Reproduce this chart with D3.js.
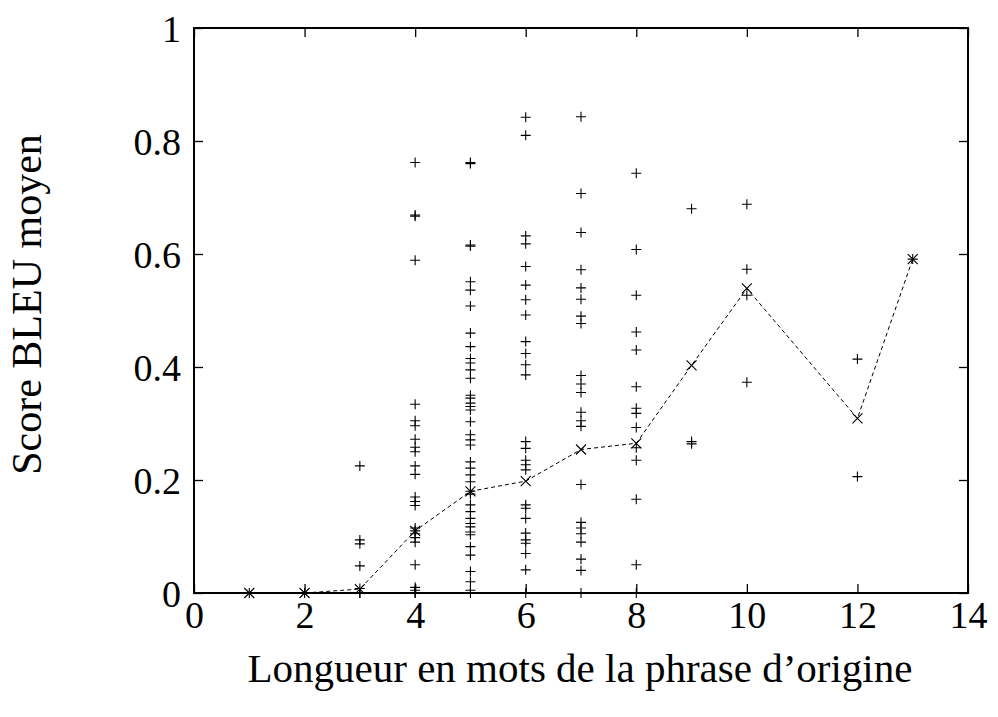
<!DOCTYPE html>
<html><head><meta charset="utf-8">
<script src="https://cdn.jsdelivr.net/npm/d3@7"></script>
<style>body{margin:0;background:#fff}svg{display:block}</style>
</head><body>
<script>
// Sentence lengths (x) and individual BLEU scores per length
const sentenceLengths = [1, 2, 3, 4, 5, 6, 7, 8, 9, 10, 12, 13];
const bleuScores = [
  [0],
  [0],
  [0.225, 0.094, 0.087, 0.048, 0.008, 0, 0],
  [0.762, 0.669, 0.667, 0.589, 0.334, 0.305, 0.296, 0.272, 0.258, 0.25, 0.225, 0.21, 0.17, 0.162, 0.155,
   0.115, 0.11, 0.105, 0.098, 0.09, 0.05, 0.01, 0.005, 0, 0],
  [0.762, 0.76, 0.616, 0.614, 0.551, 0.536, 0.508, 0.46, 0.436, 0.415, 0.407, 0.395, 0.38, 0.35, 0.345,
   0.336, 0.33, 0.324, 0.303, 0.28, 0.271, 0.262, 0.232, 0.221, 0.209, 0.197, 0.18, 0.175, 0.156, 0.144,
   0.132, 0.123, 0.117, 0.108, 0.103, 0.082, 0.067, 0.038, 0.02, 0.005, 0],
  [0.842, 0.81, 0.632, 0.618, 0.578, 0.545, 0.519, 0.492, 0.445, 0.424, 0.404, 0.386, 0.268, 0.256,
   0.235, 0.227, 0.218, 0.156, 0.15, 0.132, 0.106, 0.094, 0.088, 0.07, 0.041, 0],
  [0.843, 0.707, 0.638, 0.572, 0.54, 0.52, 0.49, 0.477, 0.385, 0.37, 0.355, 0.32, 0.305, 0.295, 0.192,
   0.125, 0.115, 0.105, 0.09, 0.06, 0.04, 0],
  [0.743, 0.608, 0.527, 0.462, 0.43, 0.365, 0.327, 0.318, 0.293, 0.257, 0.235, 0.166, 0.05, 0],
  [0.68, 0.268, 0.264],
  [0.688, 0.573, 0.527, 0.373],
  [0.414, 0.206],
  [0.591]
];
// Mean BLEU score per length
const meanLengths = [1, 2, 3, 4, 5, 6, 7, 8, 9, 10, 12, 13];
const meanScores = [0, 0, 0.007, 0.11, 0.18, 0.198, 0.254, 0.265, 0.403, 0.539, 0.309, 0.591];

const xTicks = [0, 2, 4, 6, 8, 10, 12, 14];
const yTicks = [0, 0.2, 0.4, 0.6, 0.8, 1];
const xLabel = "Longueur en mots de la phrase d\u2019origine";
const yLabel = "Score BLEU moyen";

const W = 998, H = 717;
const L = 194, R = 968, T = 28, B = 593;
const FONT = "'Liberation Serif', 'Times New Roman', serif";

const svg = d3.select("body").append("svg").attr("width", W).attr("height", H);
const x = d3.scaleLinear().domain([0, 14]).range([L, R]);
const y = d3.scaleLinear().domain([0, 1]).range([B, T]);
const tl = 9;

// axes with inward ticks on all four sides
const axB = svg.append("g").attr("transform", `translate(0,${B})`)
  .call(d3.axisBottom(x).tickValues(xTicks).tickSize(-tl).tickPadding(8).tickFormat(d3.format("d")));
const axT = svg.append("g").attr("transform", `translate(0,${T})`)
  .call(d3.axisTop(x).tickValues(xTicks).tickSize(-tl).tickFormat(""));
const axL = svg.append("g").attr("transform", `translate(${L},0)`)
  .call(d3.axisLeft(y).tickValues(yTicks).tickSize(-tl).tickPadding(13).tickFormat(d => d === 0 || d === 1 ? String(d) : d3.format(".1f")(d)));
const axR = svg.append("g").attr("transform", `translate(${R},0)`)
  .call(d3.axisRight(y).tickValues(yTicks).tickSize(-tl).tickFormat(""));
[axB, axT, axL, axR].forEach(a => {
  a.select(".domain").remove();
  a.selectAll(".tick line").attr("stroke", "#000").attr("stroke-width", 1.3);
  a.selectAll("text").attr("font-family", FONT).attr("font-size", 38).attr("fill", "#000");
});
axB.selectAll("text").attr("dy", "0.71em");
axL.selectAll("text").attr("dy", "0.35em");

// frame
svg.append("rect").attr("x", L).attr("y", T).attr("width", R - L).attr("height", B - T)
  .attr("fill", "none").attr("stroke", "#000").attr("stroke-width", 2);

// individual points (+)
const pts = [];
sentenceLengths.forEach((len, i) => bleuScores[i].forEach(v => pts.push([len, v])));
const s = 5;
svg.append("g").selectAll("path").data(pts).join("path")
  .attr("d", d => {
    const cx = x(d[0]), cy = y(d[1]);
    return `M${cx - s},${cy}H${cx + s}M${cx},${cy - s}V${cy + s}`;
  })
  .attr("stroke", "#000").attr("stroke-width", 1.1).attr("fill", "none");

// mean line (dashed) with x markers
const meanData = meanLengths.map((l, i) => [l, meanScores[i]]);
svg.append("path").datum(meanData)
  .attr("d", d3.line().x(d => x(d[0])).y(d => y(d[1])))
  .attr("fill", "none").attr("stroke", "#000").attr("stroke-width", 1).attr("stroke-dasharray", "4,3");
const m = 5;
svg.append("g").selectAll("path").data(meanData).join("path")
  .attr("d", d => {
    const cx = x(d[0]), cy = y(d[1]);
    return `M${cx - m},${cy - m}L${cx + m},${cy + m}M${cx - m},${cy + m}L${cx + m},${cy - m}`;
  })
  .attr("stroke", "#000").attr("stroke-width", 1.1).attr("fill", "none");

// labels
svg.append("text").attr("x", (L + R) / 2 - 1).attr("y", 682).attr("text-anchor", "middle")
  .attr("font-family", FONT).attr("font-size", 41).text(xLabel);
svg.append("text").attr("transform", `translate(41,${(T + B) / 2 - 6}) rotate(-90)`).attr("text-anchor", "middle")
  .attr("font-family", FONT).attr("font-size", 42).text(yLabel);
</script>
</body></html>
